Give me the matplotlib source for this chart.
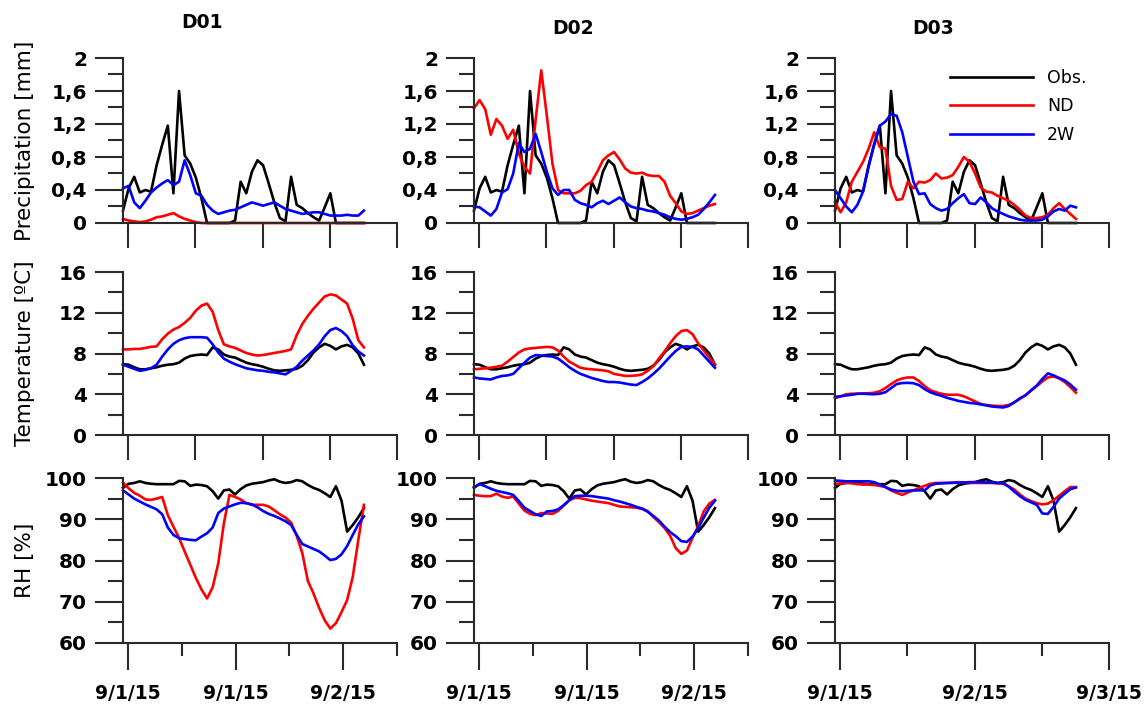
import numpy as np
import matplotlib.pyplot as plt

# hourly values, first value sits on the y axis
hours = np.arange(44)
domains = ['D01', 'D02', 'D03']
series_names = ['Obs.', 'ND', '2W']
series_colors = ['black', '#ff0000', '#0000ff']

# observations (same station record in every column)
obs_precip = [0.15, 0.42, 0.56, 0.37, 0.4, 0.38, 0.7, 0.95, 1.18, 0.36, 1.6, 0.82, 0.72, 0.55, 0.3,
              0.0, 0.0, 0.0, 0.0, 0.0, 0.03, 0.5, 0.36, 0.62, 0.76, 0.7, 0.48, 0.25, 0.06, 0.02,
              0.56, 0.22, 0.18, 0.12, 0.07, 0.03, 0.19, 0.36, 0.0, 0.0, 0.0, 0.0, 0.0, 0.0]
obs_temp = [6.95, 6.9, 6.65, 6.45, 6.45, 6.55, 6.65, 6.8, 6.9, 6.95, 7.1, 7.5, 7.75, 7.85, 7.9,
            7.85, 8.6, 8.4, 7.9, 7.7, 7.6, 7.35, 7.1, 6.95, 6.85, 6.7, 6.5, 6.35, 6.3, 6.35,
            6.4, 6.5, 6.8, 7.35, 8.1, 8.6, 8.95, 8.75, 8.4, 8.7, 8.85, 8.6, 8.0, 6.9]
obs_rh = [97.6, 98.6, 98.8, 99.2, 98.8, 98.6, 98.5, 98.5, 98.5, 98.5, 99.3, 99.2, 98.1, 98.4, 98.3,
          98.0, 96.8, 95.0, 97.0, 97.2, 96.0, 97.3, 98.2, 98.6, 98.8, 99.0, 99.4, 99.7, 99.1, 98.8,
          99.0, 99.5, 99.2, 98.3, 97.6, 97.1, 96.3, 95.4, 98.0, 94.5, 87.0, 88.6, 90.5, 92.7]

# ND runs
nd_precip_d01 = [0.05, 0.03, 0.02, 0.01, 0.02, 0.04, 0.07, 0.08, 0.1, 0.12, 0.08, 0.05, 0.03, 0.01,
                 0, 0, 0, 0, 0, 0, 0, 0, 0, 0, 0, 0, 0, 0, 0, 0, 0, 0, 0, 0, 0, 0, 0, 0, 0, 0, 0, 0, 0, 0]
nd_precip_d02 = [1.39, 1.49, 1.38, 1.07, 1.26, 1.18, 1.02, 1.13, 0.84, 0.68, 0.6, 1.25, 1.85, 1.3, 0.72,
                 0.4, 0.36, 0.36, 0.36, 0.39, 0.46, 0.5, 0.62, 0.76, 0.82, 0.86, 0.77, 0.66, 0.61, 0.6,
                 0.61, 0.58, 0.57, 0.57, 0.5, 0.33, 0.24, 0.14, 0.11, 0.12, 0.15, 0.18, 0.21, 0.23]
nd_precip_d03 = [0.25, 0.13, 0.25, 0.5, 0.62, 0.74, 0.9, 1.1, 0.92, 0.9, 0.45, 0.28, 0.29, 0.5, 0.42,
                 0.5, 0.49, 0.52, 0.6, 0.54, 0.55, 0.58, 0.68, 0.8, 0.74, 0.6, 0.43, 0.38, 0.37, 0.33,
                 0.3, 0.27, 0.22, 0.16, 0.09, 0.06, 0.06, 0.07, 0.1, 0.18, 0.24, 0.17, 0.11, 0.05]
nd_temp_d01 = [8.4, 8.4, 8.45, 8.45, 8.55, 8.65, 8.7, 9.4, 9.95, 10.35, 10.6, 11.0, 11.5, 12.2, 12.7,
               12.9, 12.1, 10.3, 8.9, 8.7, 8.55, 8.3, 8.05, 7.9, 7.8, 7.85, 7.95, 8.05, 8.15, 8.25,
               8.4, 9.8, 10.9, 11.7, 12.4, 13.0, 13.6, 13.8, 13.7, 13.3, 12.9, 11.4, 9.3, 8.6]
nd_temp_d02 = [6.45, 6.5, 6.55, 6.6, 6.7, 6.8, 7.2, 7.65, 8.1, 8.4, 8.5, 8.55, 8.6, 8.65, 8.6,
               8.3, 7.7, 7.2, 6.9, 6.6, 6.5, 6.45, 6.4, 6.35, 6.25, 6.0, 5.9, 5.8, 5.8, 5.85,
               5.95, 6.3, 6.75, 7.5, 8.2, 9.0, 9.7, 10.2, 10.3, 9.9, 9.0, 8.3, 7.6, 6.95]
nd_temp_d03 = [3.6, 3.8, 4.0, 4.05, 4.05, 4.08, 4.1, 4.15, 4.3, 4.6, 5.0, 5.35, 5.55, 5.65, 5.65,
               5.3, 4.8, 4.4, 4.2, 4.05, 3.95, 3.95, 3.95, 3.8, 3.55, 3.3, 3.05, 2.95, 2.88, 2.85,
               2.85, 2.95, 3.2, 3.55, 3.9, 4.35, 4.8, 5.25, 5.65, 5.75, 5.55, 5.2, 4.7, 4.15]
nd_rh_d01 = [98.9, 97.5, 96.4, 95.7, 94.8, 94.7, 95.0, 95.4, 91.0, 88.2, 85.5, 82.2, 79.0, 75.8, 73.0,
             70.8, 73.5, 79.3, 89.0, 95.9, 95.4, 94.8, 93.9, 93.5, 93.5, 93.5, 93.1, 92.2, 91.2, 90.4,
             89.2, 86.0, 81.8, 75.0, 72.0, 68.5, 65.5, 63.5, 64.8, 67.5, 70.4, 76.0, 85.0, 93.5]
nd_rh_d02 = [95.9, 95.7, 95.6, 95.6, 96.2, 95.5, 95.2, 95.5, 93.8, 92.1, 91.3, 91.0, 91.5, 91.4, 91.3,
             92.0, 93.3, 94.6, 95.2, 95.1, 94.8, 94.5, 94.3, 94.1, 93.9, 93.5, 93.1, 93.0, 92.9, 92.8,
             92.5, 92.0, 90.6, 89.3, 87.9, 86.0, 83.0, 81.6, 82.4, 85.5, 88.3, 91.9, 93.8, 94.7]
nd_rh_d03 = [98.6, 98.7, 98.8, 98.7, 98.5, 98.4, 98.4, 98.3, 98.1, 97.8, 97.0, 96.4, 95.9, 96.5, 97.0,
             97.6, 98.1, 98.6, 98.8, 98.8, 98.8, 98.9, 99.0, 98.9, 98.8, 98.8, 98.8, 98.8, 98.8, 98.7,
             98.6, 98.0, 97.2, 96.0, 95.0, 94.4, 93.9, 93.6, 93.8, 94.6, 95.7, 96.8, 97.8, 97.8]

# 2W runs
tw_precip_d01 = [0.42, 0.45, 0.25, 0.18, 0.27, 0.37, 0.43, 0.48, 0.52, 0.46, 0.5, 0.76, 0.58, 0.36, 0.33,
                 0.22, 0.15, 0.11, 0.13, 0.15, 0.16, 0.19, 0.22, 0.25, 0.23, 0.21, 0.23, 0.25, 0.21, 0.17,
                 0.15, 0.13, 0.11, 0.12, 0.13, 0.13, 0.11, 0.09, 0.09, 0.09, 0.1, 0.09, 0.09, 0.15]
tw_precip_d02 = [0.2, 0.19, 0.14, 0.09, 0.17, 0.37, 0.41, 0.6, 0.97, 0.86, 0.9, 1.08, 0.86, 0.62, 0.42,
                 0.34, 0.4, 0.4, 0.28, 0.24, 0.22, 0.19, 0.24, 0.27, 0.23, 0.27, 0.31, 0.25, 0.2, 0.18,
                 0.17, 0.15, 0.14, 0.12, 0.1, 0.07, 0.05, 0.04, 0.05, 0.07, 0.1, 0.17, 0.25, 0.34]
tw_precip_d03 = [0.4, 0.3, 0.2, 0.13, 0.22, 0.38, 0.68, 0.96, 1.18, 1.23, 1.32, 1.3, 1.1, 0.8, 0.5,
                 0.35, 0.36, 0.23, 0.18, 0.15, 0.17, 0.24, 0.3, 0.35, 0.24, 0.23, 0.31, 0.25, 0.18, 0.14,
                 0.11, 0.08, 0.06, 0.04, 0.03, 0.03, 0.03, 0.04, 0.08, 0.14, 0.17, 0.15, 0.21, 0.19]
tw_temp_d01 = [6.9, 6.7, 6.5, 6.3, 6.4, 6.55, 6.9, 7.7, 8.4, 8.95, 9.3, 9.5, 9.6, 9.6, 9.6,
               9.55, 8.9, 8.1, 7.5, 7.2, 6.95, 6.75, 6.55, 6.45, 6.35, 6.3, 6.2, 6.15, 6.05, 5.95,
               6.3, 6.7, 7.3, 7.8, 8.3, 8.9, 9.7, 10.3, 10.5, 10.2, 9.7, 8.8, 8.2, 7.8]
tw_temp_d02 = [5.65, 5.55, 5.5, 5.45, 5.65, 5.8, 5.85, 6.0, 6.55, 7.1, 7.6, 7.85, 7.8, 7.75, 7.7,
               7.5, 7.1, 6.65, 6.3, 6.0, 5.8, 5.6, 5.45, 5.3, 5.2, 5.2, 5.15, 5.05, 4.95, 4.9,
               5.2, 5.55, 6.0, 6.5, 7.1, 7.7, 8.25, 8.65, 8.7, 8.65, 8.4, 7.8, 7.2, 6.6]
tw_temp_d03 = [3.75, 3.8, 3.88, 3.95, 4.05, 4.05, 4.02, 4.0, 4.05, 4.2, 4.6, 5.0, 5.1, 5.12, 5.08,
               4.9, 4.5, 4.2, 4.0, 3.85, 3.65, 3.5, 3.35, 3.25, 3.15, 3.1, 3.0, 2.9, 2.8, 2.75,
               2.7, 2.85, 3.2, 3.6, 3.9, 4.4, 4.85, 5.5, 6.05, 5.85, 5.6, 5.35, 4.95, 4.45]
tw_rh_d01 = [97.0, 96.0, 95.0, 94.3, 93.6, 93.0, 92.4, 91.2, 88.0, 86.2, 85.4, 85.2, 85.0, 84.9, 85.8,
             86.6, 88.0, 91.5, 92.6, 93.1, 93.6, 94.0, 93.9, 93.6, 92.9, 92.0, 91.3, 90.8, 90.2, 89.5,
             88.6, 86.2, 84.0, 83.4, 82.8, 82.2, 81.2, 80.1, 80.4, 81.5, 83.5, 86.2, 88.8, 90.7]
tw_rh_d02 = [97.8, 98.5, 98.0, 97.4, 96.9, 96.6, 96.3, 95.9, 94.4, 92.8, 92.0, 91.2, 90.8, 91.9, 92.0,
             92.4, 93.4, 94.6, 95.6, 95.7, 95.7, 95.6, 95.4, 95.2, 95.0, 94.6, 94.3, 93.9, 93.5, 93.0,
             92.6, 91.8, 90.8, 89.7, 88.2, 86.9, 85.9, 84.7, 84.5, 85.8, 87.8, 90.4, 92.8, 94.5]
tw_rh_d03 = [99.4, 99.3, 99.2, 99.2, 99.2, 99.2, 99.2, 99.0, 98.4, 97.8, 97.2, 96.9, 96.8, 96.9, 97.0,
             97.0, 97.0, 98.2, 98.6, 98.7, 98.8, 98.8, 98.9, 98.9, 99.0, 99.0, 99.0, 98.9, 98.9, 98.8,
             98.8, 97.9, 96.7, 95.6, 94.7, 94.1, 93.5, 91.4, 91.3, 93.0, 95.0, 96.2, 97.3, 97.7]

# date ticks on the bottom row
date_labels_d01_d02 = ['9/1/15', '9/1/15', '9/2/15']
date_labels_d03 = ['9/1/15', '9/2/15', '9/3/15']

row_labels = ['Precipitation [mm]', 'Temperature [ºC]', 'RH [%]']
row_limits = [(0, 2), (0, 16), (60, 100)]
row_major = [np.arange(0, 2.01, 0.4), np.arange(0, 17, 4), np.arange(60, 101, 10)]
row_minor = [np.arange(0.2, 2, 0.4), np.arange(2, 16, 4), np.arange(65, 100, 10)]

data = [
    [[obs_precip, nd_precip_d01, tw_precip_d01],
     [obs_precip, nd_precip_d02, tw_precip_d02],
     [obs_precip, nd_precip_d03, tw_precip_d03]],
    [[obs_temp, nd_temp_d01, tw_temp_d01],
     [obs_temp, nd_temp_d02, tw_temp_d02],
     [obs_temp, nd_temp_d03, tw_temp_d03]],
    [[obs_rh, nd_rh_d01, tw_rh_d01],
     [obs_rh, nd_rh_d02, tw_rh_d02],
     [obs_rh, nd_rh_d03, tw_rh_d03]],
]

W, H = 1147, 709
fig = plt.figure(figsize=(W / 100, H / 100), dpi=100)

col_left = [123, 474, 835]
col_width = 274
row_top = [58, 272, 478]
row_bottom = [223, 435, 643]

axis_col = '#2a2a2a'
t0 = 0.9  # first date tick, just right of the y axis


def fmt(v):
    return ('%g' % round(v, 2)).replace('.', ',')


for r in range(3):
    for c in range(3):
        ax = fig.add_axes([col_left[c] / W, 1 - row_bottom[r] / H,
                           col_width / W, (row_bottom[r] - row_top[r]) / H])
        for s, name, colr in zip(data[r][c], series_names, series_colors):
            ax.plot(hours, s, color=colr, lw=1.9, label=name, clip_on=False)

        ax.set_xlim(0, t0 + 48)
        ax.set_ylim(*row_limits[r])
        for side in ['top', 'right']:
            ax.spines[side].set_visible(False)
        for side in ['left', 'bottom']:
            ax.spines[side].set_color(axis_col)
            ax.spines[side].set_linewidth(1.5)

        ax.set_yticks(row_major[r])
        ax.set_yticklabels([fmt(v) for v in row_major[r]])
        ax.set_yticks(row_minor[r], minor=True)
        ax.tick_params(axis='y', which='major', length=20, width=1.5, color=axis_col,
                       labelsize=14.5, pad=6)
        ax.tick_params(axis='y', which='minor', length=10.5, width=1.5, color=axis_col)

        if r < 2:
            ax.set_xticks(t0 + np.arange(0, 49, 12))
            ax.set_xticklabels([])
            ax.tick_params(axis='x', which='major', length=18, width=1.5, color=axis_col)
        else:
            if c < 2:
                step = 48 / 5
                ax.set_xticks(t0 + np.array([0, 2, 4]) * step)
                ax.set_xticks(t0 + np.array([1, 3, 5]) * step, minor=True)
                ax.set_xticklabels(date_labels_d01_d02)
            else:
                ax.set_xticks(t0 + np.array([0, 24, 48]))
                ax.set_xticks(t0 + np.array([12, 36]), minor=True)
                ax.set_xticklabels(date_labels_d03)
            ax.tick_params(axis='x', which='major', length=19.5, width=1.5, color=axis_col,
                           labelsize=13.5, pad=10)
            ax.tick_params(axis='x', which='minor', length=9.5, width=1.5, color=axis_col)

        for lab in ax.get_xticklabels() + ax.get_yticklabels():
            lab.set_fontweight('bold')

        if c == 0:
            ax.set_ylabel(row_labels[r], fontsize=15.5)
            ax.yaxis.set_label_coords(-0.32, 0.5)

        if r == 0 and c == 2:
            ax.legend(loc='upper left', bbox_to_anchor=(950 / W, 1 - 69 / H),
                      bbox_transform=fig.transFigure, frameon=False, fontsize=12.5,
                      handlelength=4.8, handletextpad=0.8, labelspacing=0.6,
                      borderpad=0, borderaxespad=0)

title_pos = [(202, 22), (573, 28), (933, 28)]
for name, (x, y) in zip(domains, title_pos):
    fig.text(x / W, 1 - y / H, name, ha='center', va='center', fontsize=13.5, fontweight='bold')

fig.savefig('out.png', dpi=100)
